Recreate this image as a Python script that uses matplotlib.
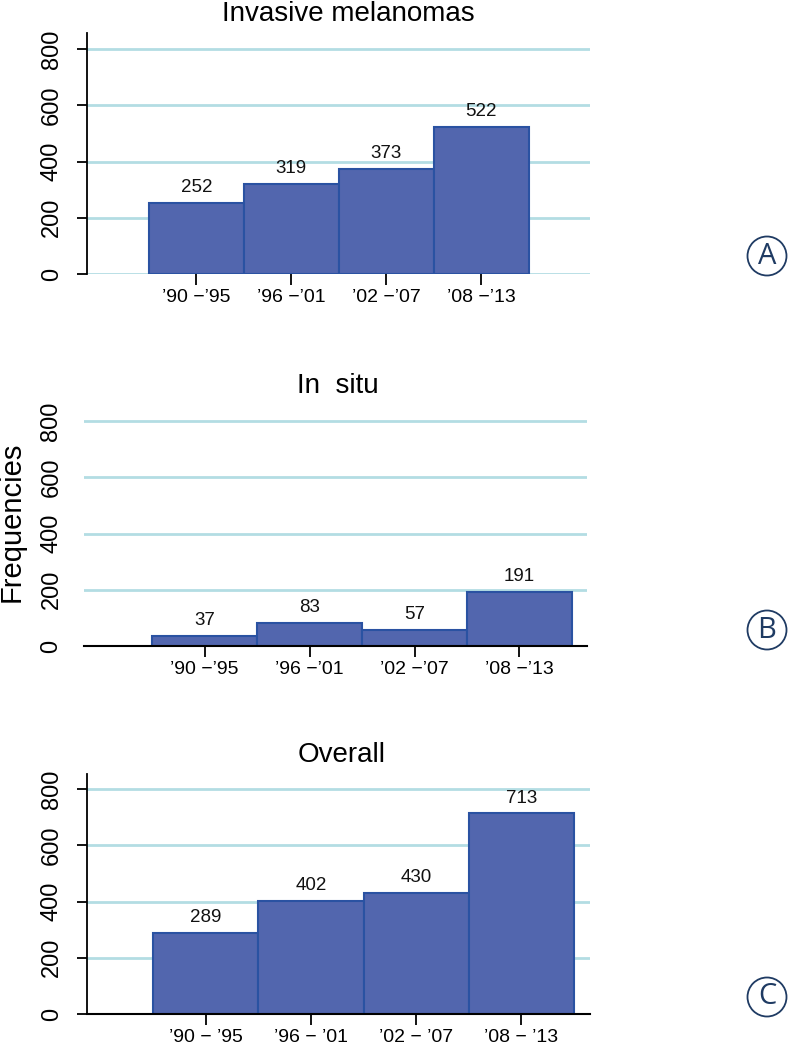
import matplotlib
matplotlib.use("Agg")
import matplotlib.pyplot as plt
from matplotlib.patches import Circle

plt.rcParams['font.family'] = ['Liberation Sans', 'DejaVu Sans']

W, H = 788, 1045
DPI = 100

titles = ["Invasive melanomas", "In  situ", "Overall"]
invasive = [252, 319, 373, 522]
in_situ = [37, 83, 57, 191]
overall = [289, 402, 430, 713]
labels_ab = ["\u201990 \u2212\u201995", "\u201996 \u2212\u201901", "\u201902 \u2212\u201907", "\u201908 \u2212\u201913"]
labels_c = ["\u201990 \u2212 \u201995", "\u201996 \u2212 \u201901", "\u201902 \u2212 \u201907", "\u201908 \u2212 \u201913"]
yticks = [0, 200, 400, 600, 800]
letters = ["A", "B", "C"]

BAR = "#5266ae"
EDGE = "#2a52a2"
GRID = "#b3dde3"
NAVY = "#1f3b63"

fig = plt.figure(figsize=(W / DPI, H / DPI), dpi=DPI)

def px_axes(l, t, r, b):
    return fig.add_axes([l / W, 1 - b / H, (r - l) / W, (b - t) / H])

panels = [
    dict(box=(87, 33, 590, 274), xlim=(-1.153, 4.146), vals=invasive, labels=labels_ab,
         yaxis=True, baseline=False, title_x=348, title_y=21),
    dict(box=(84, 400, 587, 646), xlim=(-1.148, 3.643), vals=in_situ, labels=labels_ab,
         yaxis=False, baseline=True, title_x=338, title_y=393),
    dict(box=(87, 774, 590, 1014), xlim=(-1.129, 3.652), vals=overall, labels=labels_c,
         yaxis=True, baseline=True, title_x=342, title_y=762),
]

scale = 225 / 800.0  # px per unit

for i, p in enumerate(panels):
    l, t, r, b = p['box']
    ax = px_axes(l, t, r, b)
    ax.set_ylim(0, (b - t) / scale)
    ax.set_xlim(*p['xlim'])
    x = list(range(len(p['vals'])))
    ax.bar(x, p['vals'], width=1.0, color=BAR, edgecolor=EDGE, linewidth=1.5, zorder=3)
    for xi, v in zip(x, p['vals']):
        ax.annotate(str(v), (xi, v), xytext=(0, 5), textcoords='offset points',
                    ha='center', va='bottom', fontsize=13.5, color='#111111', zorder=4)
    for yv in yticks:
        ax.axhline(yv, color=GRID, lw=2, zorder=1)
    for s in ['top', 'right']:
        ax.spines[s].set_visible(False)
    ax.spines['left'].set_visible(p['yaxis'])
    ax.spines['left'].set_linewidth(1.3)
    ax.spines['bottom'].set_visible(p['baseline'])
    ax.spines['bottom'].set_linewidth(1.5)
    ax.spines['bottom'].set_zorder(5)
    ax.set_yticks(yticks)
    ax.set_yticklabels([str(v) for v in yticks], rotation=90, va='center', fontsize=17)
    ax.tick_params(axis='y', length=7.5 if p['yaxis'] else 0, width=1.3,
                   pad=10 if p['yaxis'] else 15.5)
    ax.set_xticks(x)
    ax.set_xticklabels(p['labels'], fontsize=14)
    ax.tick_params(axis='x', length=8, width=1.3, pad=3)
    ax.set_facecolor('none')
    fig.text(p['title_x'] / W, 1 - p['title_y'] / H, titles[i], ha='center', va='baseline',
             fontsize=20)

fig.text(12 / W, 1 - 522 / H, "Frequencies", rotation=90, ha='center', va='center', fontsize=21)

centers = [(767, 256), (767, 630), (767, 997)]
for (cx, cy), L in zip(centers, letters):
    xi, yi = cx / DPI, (H - cy) / DPI
    c = Circle((xi, yi), 0.195, transform=fig.dpi_scale_trans, fill=False, ec=NAVY, lw=1.3)
    fig.add_artist(c)
    fig.text(cx / W, 1 - cy / H, L, ha='center', va='center', fontsize=21, color=NAVY,
             family=['Open Sans', 'DejaVu Sans'])

fig.savefig("out.png", dpi=DPI)
